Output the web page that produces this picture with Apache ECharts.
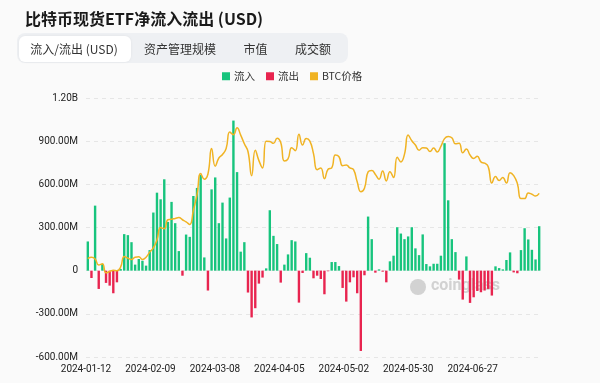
<!DOCTYPE html>
<html>
<head>
<meta charset="utf-8">
<script src="https://cdn.jsdelivr.net/npm/echarts@6/dist/echarts.min.js"></script>
<style>
html,body{margin:0;padding:0;background:#fafafa;}
#chart{width:600px;height:383px;}
</style>
</head>
<body>
<div id="chart"></div>
<script>
// Trading days (categories)
const dates = [
'2024-01-12','2024-01-16','2024-01-17','2024-01-18','2024-01-19','2024-01-22','2024-01-23','2024-01-24','2024-01-25','2024-01-26','2024-01-29','2024-01-30','2024-01-31',
'2024-02-01','2024-02-02','2024-02-05','2024-02-06','2024-02-07','2024-02-08','2024-02-09','2024-02-12','2024-02-13','2024-02-14','2024-02-15','2024-02-16','2024-02-20','2024-02-21','2024-02-22','2024-02-23','2024-02-26','2024-02-27','2024-02-28','2024-02-29',
'2024-03-01','2024-03-04','2024-03-05','2024-03-06','2024-03-07','2024-03-08','2024-03-11','2024-03-12','2024-03-13','2024-03-14','2024-03-15','2024-03-18','2024-03-19','2024-03-20','2024-03-21','2024-03-22','2024-03-25','2024-03-26','2024-03-27','2024-03-28',
'2024-04-01','2024-04-02','2024-04-03','2024-04-04','2024-04-05','2024-04-08','2024-04-09','2024-04-10','2024-04-11','2024-04-12','2024-04-15','2024-04-16','2024-04-17','2024-04-18','2024-04-19','2024-04-22','2024-04-23','2024-04-24','2024-04-25','2024-04-26','2024-04-29','2024-04-30',
'2024-05-01','2024-05-02','2024-05-03','2024-05-06','2024-05-07','2024-05-08','2024-05-09','2024-05-10','2024-05-13','2024-05-14','2024-05-15','2024-05-16','2024-05-17','2024-05-20','2024-05-21','2024-05-22','2024-05-23','2024-05-24','2024-05-28','2024-05-29','2024-05-30','2024-05-31',
'2024-06-03','2024-06-04','2024-06-05','2024-06-06','2024-06-07','2024-06-10','2024-06-11','2024-06-12','2024-06-13','2024-06-14','2024-06-17','2024-06-18','2024-06-20','2024-06-21','2024-06-24','2024-06-25','2024-06-26','2024-06-27','2024-06-28',
'2024-07-01','2024-07-02','2024-07-03','2024-07-05','2024-07-08','2024-07-09','2024-07-10','2024-07-11','2024-07-12'
];

// Daily net flow, millions USD (positive = inflow, negative = outflow)
const netFlowM = [
203,-51,452,-127,46,-85,-104,-157,-81,12,
254,247,198,42,81,69,35,143,404,542,
496,635,339,478,330,136,-35,251,235,519,
575,665,92,-138,565,648,330,473,224,508,
1043,685,132,198,-152,-325,-261,-90,-48,16,
420,242,185,-83,42,113,212,203,-222,-16,
122,90,-53,-35,-58,-164,-4,60,60,32,
-120,-215,-81,-46,-157,-558,-32,376,219,-14,
9,-7,-81,65,104,302,258,219,238,302,
155,108,252,46,30,48,48,104,886,489,
219,129,-62,-201,99,-224,-185,-141,-150,-138,
-127,-173,30,18,9,74,127,-12,-18,143,
295,217,145,78,309
];

// BTC close price, USD
const btcPrice = [
42800,43100,42700,41300,41600,39500,39800,40100,40000,40800,
43300,42900,42600,43100,43200,42600,43100,44300,45300,47100,
50000,49700,51800,51900,52100,52300,51800,51300,50700,54000,
57600,62500,61200,62400,68300,64200,66100,66900,68300,72100,
71500,73100,71400,69400,67600,62000,67900,65500,63800,70000,
69900,69500,70700,69700,65400,65900,68500,67800,71600,69100,
70600,70000,67100,63400,63800,61300,63500,63800,66800,66400,
64300,64500,63800,63400,60600,58300,59100,62900,63200,62300,
61200,63100,60800,62900,61600,66300,65200,67000,71400,70100,
69100,67900,68500,68400,67600,68400,67500,68800,70600,71100,
70800,69400,69500,67300,68200,66800,66000,66500,65200,64900,
64100,60300,61800,60900,61600,60300,62700,62000,60200,56700,
56700,58000,57700,57300,57900
];

const xTickLabels = ['2024-01-12','2024-02-09','2024-03-08','2024-04-05','2024-05-02','2024-05-30','2024-06-27'];
const yTickValues = [-600, -300, 0, 300, 600, 900, 1200];
const yTickLabels = ['-600.00M','-300.00M','0','300.00M','600.00M','900.00M','1.20B'];
const tabLabels = ['流入/流出 (USD)','资产管理规模','市值','成交额'];
const legendNames = ['流入','流出','BTC价格'];

const GREEN = '#17c47d', RED = '#e8244f', GOLD = '#f0b323';
const inflow = netFlowM.map(v => v >= 0 ? v : '-');
const outflow = netFlowM.map(v => v < 0 ? v : '-');

const chart = echarts.init(document.getElementById('chart'), null, {renderer: 'canvas'});
const FONT = 'Roboto, "Noto Sans CJK SC", sans-serif';
const CJK = '"Noto Sans CJK SC", "Noto Sans", sans-serif';

const tabX = [74, 180, 255.5, 313];
const graphics = [
  {type:'rect', left:17, top:33, shape:{width:331, height:30, r:8}, style:{fill:'#eef0f3'}, z:0},
  {type:'rect', left:19, top:36, shape:{width:112, height:26, r:6}, style:{fill:'#ffffff', shadowBlur:3, shadowColor:'rgba(0,0,0,0.06)'}, z:1}
];
tabLabels.forEach((t, i) => {
  graphics.push({type:'text', x:tabX[i], y:49, z:2, style:{text:t, fill:'#333', font:'12px ' + CJK, textAlign:'center', textVerticalAlign:'middle'}});
});
graphics.push({type:'circle', shape:{cx:418, cy:287, r:8}, style:{fill:'rgba(170,170,170,0.5)'}, z:-1});
graphics.push({type:'text', x:431, y:286, z:-1, style:{text:'coinglass', fill:'rgba(170,170,170,0.5)', font:'bold 16px ' + FONT, textVerticalAlign:'middle'}});

chart.setOption({
  backgroundColor: '#fafafa',
  animation: false,
  title: {
    text: '比特币现货ETF净流入流出 (USD)',
    left: 20, top: 6,
    textStyle: {fontSize: 16, fontWeight: 'bold', color: '#1a1a1a', fontFamily: CJK}
  },
  graphic: graphics,
  legend: {
    data: legendNames,
    left: 217, top: 66,
    icon: 'rect', itemWidth: 8, itemHeight: 8, itemGap: 11,
    textStyle: {fontSize: 10.5, color: '#333', fontFamily: CJK, padding: [0,0,0,-1]}
  },
  grid: {left: 86, right: 59, top: 98, bottom: 26},
  xAxis: [
    {
      type: 'category', data: dates, boundaryGap: true,
      axisLine: {show: false}, axisTick: {show: false}, axisLabel: {show: false},
      splitLine: {show: false}
    },
    {
      type: 'value', position: 'bottom', min: 0, max: 7.06, interval: 1,
      axisLine: {show: false}, axisTick: {show: false}, splitLine: {show: false},
      axisLabel: {
        showMaxLabel: false, margin: 7,
        color: '#222', fontSize: 10, fontFamily: FONT,
        formatter: v => xTickLabels[Math.round(v)] || ''
      }
    }
  ],
  yAxis: [
    {
      type: 'value', min: -600, max: 1200, interval: 300,
      axisLine: {show: false}, axisTick: {show: false},
      axisLabel: {
        margin: 8, color: '#222', fontSize: 10, fontFamily: FONT,
        formatter: v => yTickLabels[yTickValues.indexOf(v)]
      },
      splitLine: {show: true, lineStyle: {color: '#e6e6e6', type: [4, 4], width: 1}}
    },
    {
      type: 'value', min: 20000, max: 80000, show: false, splitLine: {show: false}
    }
  ],
  series: [
    {name: '流入', type: 'bar', data: inflow, barWidth: 2.4, barGap: '-100%', itemStyle: {color: GREEN}},
    {name: '流出', type: 'bar', data: outflow, barWidth: 2.4, barGap: '-100%', itemStyle: {color: RED}},
    {name: 'BTC价格', type: 'line', yAxisIndex: 1, data: btcPrice, smooth: 0.5, showSymbol: false,
     lineStyle: {color: GOLD, width: 1.5}, itemStyle: {color: GOLD}, z: 5}
  ]
});
</script>
</body>
</html>
